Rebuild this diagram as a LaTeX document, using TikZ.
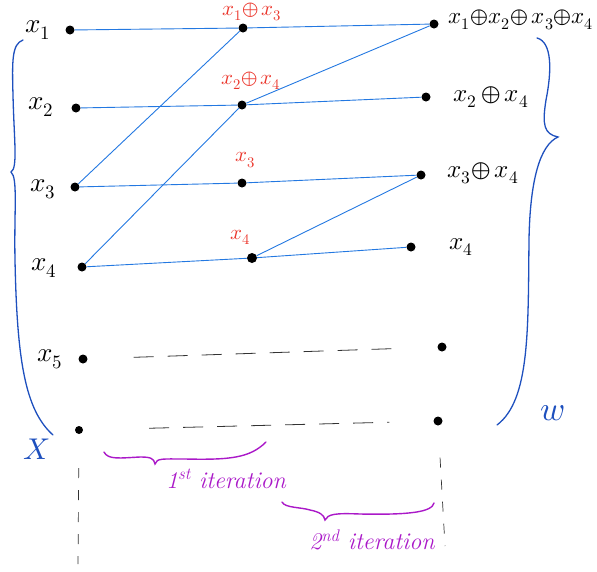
\documentclass[tikz,border=0pt]{standalone}
\usepackage{unicode-math}
\definecolor{wireblue}{RGB}{35,120,225}
\definecolor{braceblue}{RGB}{30,80,190}
\definecolor{redlab}{RGB}{235,55,45}
\definecolor{purp}{RGB}{170,25,200}
\tikzset{
  vdot/.style={circle,fill=black,inner sep=0pt,minimum size=9pt},
  wire/.style={draw=wireblue,line width=0.9pt},
  lbl/.style={font=\fontsize{27}{29}\selectfont,inner sep=0pt},
  olbl/.style={font=\fontsize{25}{27}\selectfont,inner sep=0pt},
  redlbl/.style={font=\fontsize{21}{23}\selectfont,text=redlab,inner sep=0pt},
  bracepath/.style={draw=braceblue,line width=1.3pt,line cap=round},
  purpbrace/.style={draw=purp,line width=1.4pt,line cap=round},
  purplbl/.style={font=\fontsize{24}{26}\selectfont\itshape,text=purp,inner sep=0pt},
  gap/.style={draw=black!80,line width=0.8pt,dash pattern=on 20pt off 14pt},
  vgap/.style={draw=black!80,line width=0.7pt,dash pattern=on 10pt off 12pt}
}
\begin{document}
\begin{tikzpicture}[x=1pt,y=-1pt]
\useasboundingbox (0,0) rectangle (597,571);
% dots
\node[vdot] (a1) at (70,30) {};
\node[vdot] (a2) at (76,108) {};
\node[vdot] (a3) at (75,187) {};
\node[vdot] (a4) at (82,267) {};
\node[vdot] (a5) at (83,359) {};
\node[vdot,minimum size=8pt] (a6) at (79,430) {};
\node[vdot] (m1) at (243,28) {};
\node[vdot] (m2) at (242,105) {};
\node[vdot] (m3) at (242,183) {};
\node[vdot,minimum size=10pt] (m4) at (252,258) {};
\node[vdot] (r1) at (434,24) {};
\node[vdot] (r2) at (426,97) {};
\node[vdot] (r3) at (421,175) {};
\node[vdot] (r4) at (411,247) {};
\node[vdot] (r5) at (442,347) {};
\node[vdot] (r6) at (438,421) {};
% wires
\draw[wire] (a1) -- (m1);
\draw[wire] (m1) -- (r1);
\draw[wire] (a2) -- (m2);
\draw[wire] (m2) -- (r2);
\draw[wire] (a3) -- (m3);
\draw[wire] (m3) -- (r3);
\draw[wire] (a4) -- (m4);
\draw[wire] (m4) -- (r4);
\draw[wire] (a3) -- (m1);
\draw[wire] (a4) -- (m2);
\draw[wire] (m2) -- (r1);
\draw[wire] (m4) -- (r3);
% dashed gaps
\draw[gap,shorten <=46pt,shorten >=46pt] (a5) -- (r5);
\draw[gap,shorten <=66pt,shorten >=44pt] (a6) -- (r6);
\coordinate (vl) at (78,564);
\coordinate (vr) at (445,546);
\draw[vgap,shorten <=34pt] (a6) -- (vl);
\draw[vgap,shorten <=32pt] (r6) -- (vr);
% left labels
\node[lbl] (lx1) at (38,30) {$x_1$};
\node[lbl] (lx2) at (41,107) {$x_2$};
\node[lbl] (lx3) at (43,189) {$x_3$};
\node[lbl] (lx4) at (44,268) {$x_4$};
\node[lbl] (lx5) at (50,359) {$x_5$};
% red labels
\node[redlbl] (rl1) at (252,12) {$x_1{\oplus}\,x_3$};
\node[redlbl] (rl2) at (251,81) {$x_2{\oplus}\,x_4$};
\node[redlbl] (rl3) at (245,160) {$x_3$};
\node[redlbl] (rl4) at (240,237) {$x_4$};
% right labels
\node[olbl,font=\fontsize{23}{25}\selectfont] (ol1) at (521,20) {$x_1{\oplus}x_2{\oplus}\,x_3{\oplus}x_4$};
\node[olbl] (ol2) at (491,97) {$x_2\,{\oplus}\,x_4$};
\node[olbl] (ol3) at (483,173) {$x_3{\oplus}\,x_4$};
\node[olbl] (ol4) at (461,247) {$x_4$};
% blue braces
\draw[bracepath] (23,40) .. controls (12,44) and (12,60) .. (13,95)
  .. controls (14,140) and (18,168) .. (11,172)
  .. controls (18,178) and (14,210) .. (15,260)
  .. controls (17,360) and (25,410) .. (53,435);
\draw[bracepath] (537,38) .. controls (552,42) and (552,70) .. (546,100)
  .. controls (542,125) and (544,134) .. (558,137)
  .. controls (540,145) and (530,180) .. (529,240)
  .. controls (528,330) and (530,400) .. (497,425);
\node[font=\fontsize{30}{32}\selectfont,text=braceblue,inner sep=0pt] (xl) at (37,449) {$X$};
\node[font=\fontsize{34}{36}\selectfont,text=braceblue,inner sep=0pt] (wl) at (553,413) {$w$};
% purple braces
\draw[purpbrace] (104,452) .. controls (108,460) and (120,458) .. (140,457)
  .. controls (150,457) and (154,458) .. (155,464)
  .. controls (157,458) and (162,459) .. (185,459)
  .. controls (230,460) and (250,458) .. (266,442);
\draw[purpbrace] (282,502) .. controls (285,508) and (300,507) .. (310,510)
  .. controls (320,512) and (324,515) .. (325,520)
  .. controls (328,514) and (335,513) .. (360,514)
  .. controls (410,515) and (432,512) .. (434,503);
\node[purplbl] (it1) at (226,479) {1\textsuperscript{st} iteration};
\node[purplbl] (it2) at (372,540) {2\textsuperscript{nd} iteration};
\end{tikzpicture}
\end{document}
